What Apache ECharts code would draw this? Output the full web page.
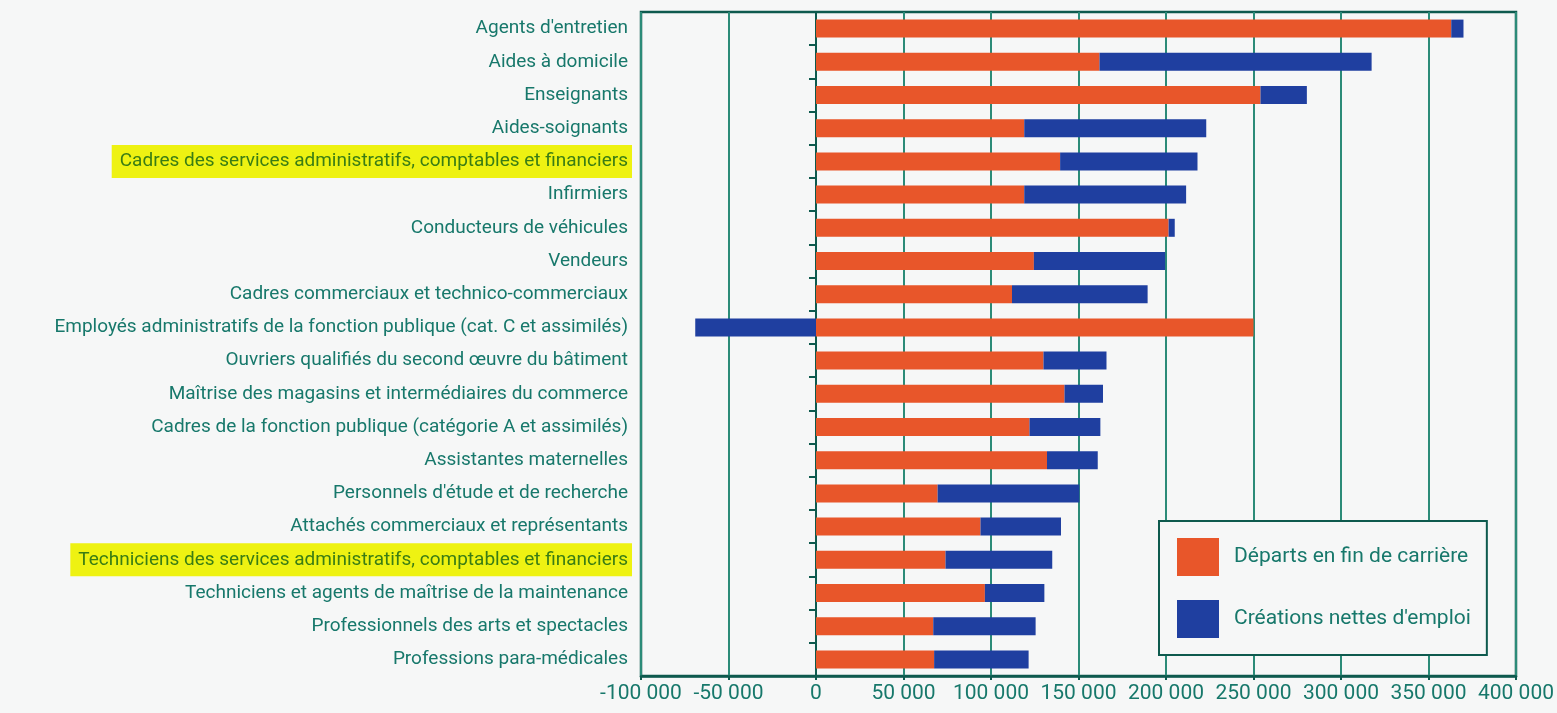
<!DOCTYPE html>
<html>
<head>
<meta charset="utf-8">
<script src="https://cdn.jsdelivr.net/npm/echarts@6/dist/echarts.min.js"></script>
<style>
  html, body { margin: 0; padding: 0; background: #f6f7f7; }
  #chart { width: 1557px; height: 713px; }
</style>
</head>
<body>
<div id="chart"></div>
<script>
const categories = [
  "Agents d'entretien",
  "Aides à domicile",
  "Enseignants",
  "Aides-soignants",
  "Cadres des services administratifs, comptables et financiers",
  "Infirmiers",
  "Conducteurs de véhicules",
  "Vendeurs",
  "Cadres commerciaux et technico-commerciaux",
  "Employés administratifs de la fonction publique (cat. C et assimilés)",
  "Ouvriers qualifiés du second œuvre du bâtiment",
  "Maîtrise des magasins et intermédiaires du commerce",
  "Cadres de la fonction publique (catégorie A et assimilés)",
  "Assistantes maternelles",
  "Personnels d'étude et de recherche",
  "Attachés commerciaux et représentants",
  "Techniciens des services administratifs, comptables et financiers",
  "Techniciens et agents de maîtrise de la maintenance",
  "Professionnels des arts et spectacles",
  "Professions para-médicales"
];
const departs = [363000, 162000, 254000, 119000, 139500, 119000, 201500, 124500, 112000, 250000, 130000, 142000, 122000, 132000, 69500, 94000, 74000, 96500, 67000, 67500];
const creations = [7000, 155500, 26500, 104000, 78500, 92500, 3500, 75000, 77500, -69000, 36000, 22000, 40500, 29000, 81000, 46000, 61000, 34000, 58500, 54000];
const highlighted = [
  "Cadres des services administratifs, comptables et financiers",
  "Techniciens des services administratifs, comptables et financiers"
];
const seriesNames = ["Départs en fin de carrière", "Créations nettes d'emploi"];
const xMin = -100000, xMax = 400000, xStep = 50000;

const TEAL = '#17786b';
const DARK = '#0e5a4e';
const GRIDC = '#2b8b78';
const FONT = 'Roboto, "Noto Sans", sans-serif';

const chart = echarts.init(document.getElementById('chart'), null, { renderer: 'canvas' });
chart.setOption({
  backgroundColor: '#f6f7f7',
  animation: false,
  grid: {
    left: 641, right: 41, top: 12, bottom: 37,
    show: true, borderColor: DARK, borderWidth: 2.5, backgroundColor: 'transparent'
  },
  legend: {
    data: seriesNames,
    orient: 'vertical',
    left: 1159, top: 521,
    itemWidth: 42, itemHeight: 38, itemGap: 24,
    padding: [17, 16, 17, 18],
    borderColor: DARK, borderWidth: 2,
    backgroundColor: '#f6f7f7',
    icon: 'rect',
    textStyle: { color: TEAL, fontSize: 21, fontFamily: FONT, padding: [0, 0, 0, 10] }
  },
  xAxis: {
    type: 'value',
    min: xMin, max: xMax, interval: xStep,
    axisLine: { show: true, lineStyle: { color: DARK, width: 2.5 } },
    axisTick: { show: true, length: 4, lineStyle: { color: DARK, width: 2 } },
    splitLine: { show: true, lineStyle: { color: GRIDC, width: 2 } },
    axisLabel: {
      color: TEAL, fontSize: 21, fontFamily: FONT, margin: 7,
      formatter: v => String(v).replace(/\B(?=(\d{3})+(?!\d))/g, ' ')
    }
  },
  yAxis: [
    {
      type: 'category',
      data: categories,
      inverse: true,
      position: 'left',
      axisLine: { show: false, onZero: false },
      axisTick: { show: false },
      splitLine: { show: false },
      axisLabel: {
        margin: 9,
        formatter: v => highlighted.includes(v) ? '{h|' + v + '}' : '{n|' + v + '}',
        rich: {
          n: { color: TEAL, fontSize: 19, fontFamily: FONT, padding: [0, 4, 0, 0] },
          h: { color: '#3a7d14', fontSize: 19, fontFamily: FONT, backgroundColor: '#eef212', padding: [7, 4, 7, 8] }
        }
      }
    },
    {
      type: 'category',
      data: categories,
      inverse: true,
      position: 'left',
      axisLine: { show: true, onZero: true, lineStyle: { color: DARK, width: 2 } },
      axisTick: { show: true, length: 7, lineStyle: { color: DARK, width: 2 } },
      axisLabel: { show: false },
      splitLine: { show: false }
    }
  ],
  series: [
    {
      name: seriesNames[0], type: 'bar', stack: 'total', yAxisIndex: 0,
      data: departs, barWidth: 18,
      itemStyle: { color: '#e8562a' }
    },
    {
      name: seriesNames[1], type: 'bar', stack: 'total', yAxisIndex: 0,
      data: creations, barWidth: 18,
      itemStyle: { color: '#1f3fa0' }
    }
  ]
});
</script>
</body>
</html>
